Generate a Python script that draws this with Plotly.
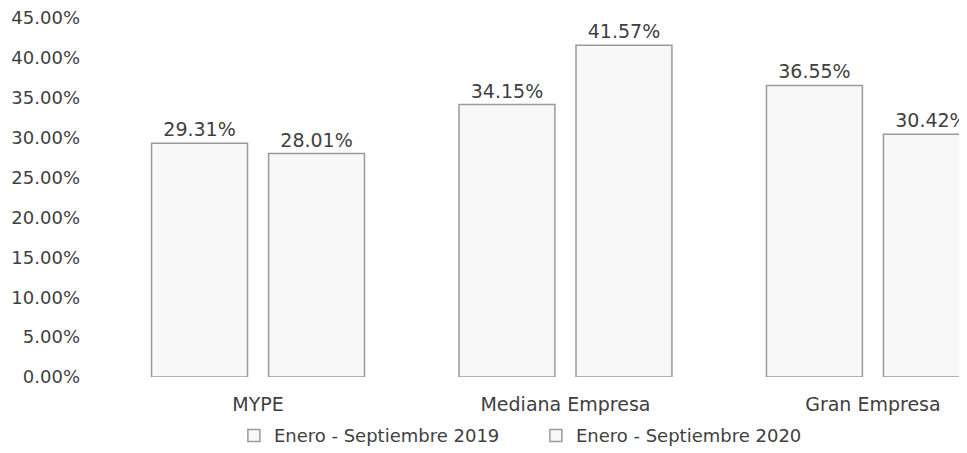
import plotly.graph_objects as go

categories = ["MYPE", "Mediana Empresa", "Gran Empresa"]
series_names = ["Enero - Septiembre 2019", "Enero - Septiembre 2020"]
values_2019 = [29.31, 34.15, 36.55]
values_2020 = [28.01, 41.57, 30.42]
tick_vals = [0, 5, 10, 15, 20, 25, 30, 35, 40, 45]
tick_text = [f"{v:.2f}%" for v in tick_vals]

font_family = "'DejaVu Sans', sans-serif"
text_color = "#3f3f3f"

fig = go.Figure()
for name, vals in zip(series_names, [values_2019, values_2020]):
    fig.add_trace(go.Bar(
        x=categories, y=vals, name=name,
        text=[f"{v:.2f}%" for v in vals],
        textposition="outside",
        cliponaxis=False,
        textfont=dict(family=font_family, size=19, color=text_color),
        marker=dict(color="#f8f8f8", line=dict(color="#9a9a9a", width=1.5)),
    ))

fig.update_layout(
    width=967, height=453,
    margin=dict(l=92, r=0, t=10, b=84),
    paper_bgcolor="white", plot_bgcolor="white",
    barmode="group", bargap=0.239, bargroupgap=0.18,
    font=dict(family=font_family, size=18, color=text_color),
    showlegend=True,
    legend=dict(orientation="h", x=0.153, xanchor="left", y=-0.112, yanchor="top",
                font=dict(family=font_family, size=18, color=text_color),
                entrywidth=257, entrywidthmode="pixels", itemwidth=30),
    xaxis=dict(range=[-0.514, 2.332], showline=False, showgrid=False, ticks="",
               ticklabelstandoff=14,
               tickfont=dict(family=font_family, size=19, color=text_color)),
    yaxis=dict(range=[0, 45], tickvals=tick_vals, ticktext=tick_text,
               showgrid=False, zeroline=False, showline=False, ticks="",
               ticklabelstandoff=19, ticklabeloverflow="allow",
               tickfont=dict(family=font_family, size=18, color=text_color)),
)

fig.write_html("out.html")
